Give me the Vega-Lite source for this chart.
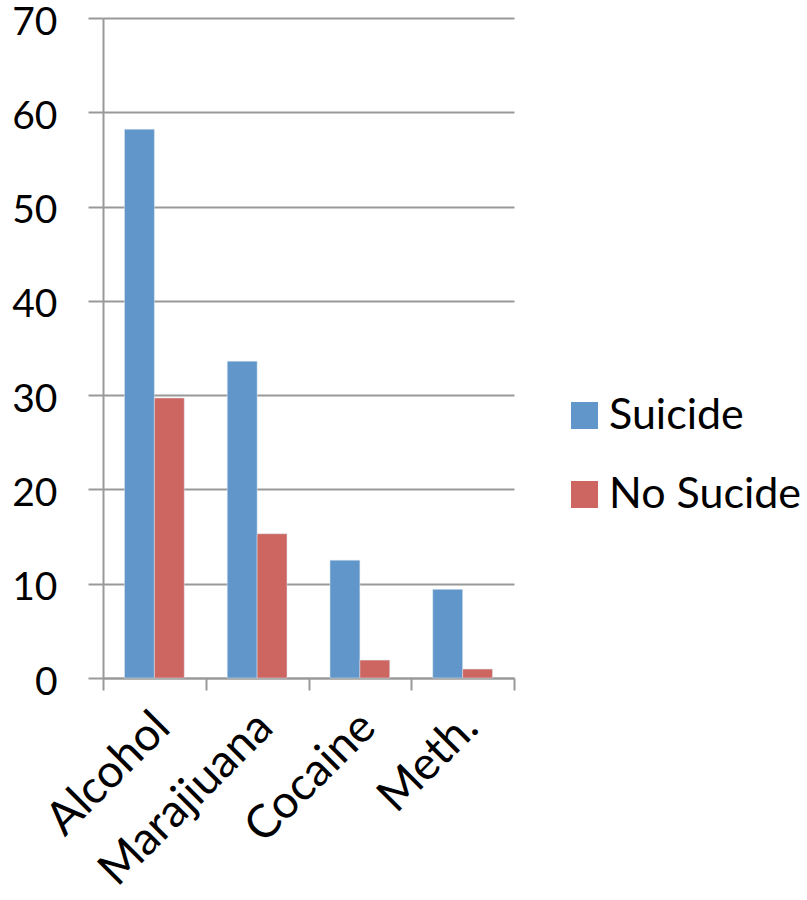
{
  "$schema": "https://vega.github.io/schema/vega-lite/v6.json",
  "autosize": "none",
  "width": 411,
  "height": 660,
  "padding": {"left": 103, "top": 18, "right": 293, "bottom": 222},
  "background": "white",
  "data": {
    "values": [
      {"drug": "Alcohol", "group": "Suicide", "value": 58.2},
      {"drug": "Alcohol", "group": "No Sucide", "value": 29.7},
      {"drug": "Marajiuana", "group": "Suicide", "value": 33.6},
      {"drug": "Marajiuana", "group": "No Sucide", "value": 15.3},
      {"drug": "Cocaine", "group": "Suicide", "value": 12.5},
      {"drug": "Cocaine", "group": "No Sucide", "value": 1.9},
      {"drug": "Meth.", "group": "Suicide", "value": 9.4},
      {"drug": "Meth.", "group": "No Sucide", "value": 0.95}
    ]
  },
  "config": {
    "font": "Lato",
    "view": {"stroke": null},
    "axis": {"domainColor": "#999999", "domainWidth": 2, "tickColor": "#999999", "tickWidth": 2, "gridColor": "#999999", "gridWidth": 2, "labelColor": "black", "labelFont": "Lato", "labelLimit": 0}
  },
  "mark": {"type": "bar", "stroke": "#dbe6f2", "strokeWidth": 0.5},
  "encoding": {
    "x": {
      "field": "drug", "type": "nominal", "sort": ["Alcohol", "Marajiuana", "Cocaine", "Meth."],
      "scale": {"paddingInner": 0, "paddingOuter": 0},
      "axis": {"title": null, "labelAngle": -45, "labelFontSize": 46, "tickBand": "extent", "tickSize": 12, "labelPadding": 14, "grid": false, "labelAlign": "right", "labelBaseline": "top", "labelOffset": -8}
    },
    "xOffset": {"field": "group", "type": "nominal", "sort": ["Suicide", "No Sucide"], "scale": {"paddingOuter": 0.72, "paddingInner": 0}},
    "y": {
      "field": "value", "type": "quantitative",
      "scale": {"domain": [0, 70], "nice": false},
      "axis": {"title": null, "values": [0, 10, 20, 30, 40, 50, 60, 70], "tickSize": 15, "labelFontSize": 39, "labelPadding": 31, "labelOffset": 4, "grid": true}
    },
    "color": {
      "field": "group", "type": "nominal", "sort": ["Suicide", "No Sucide"],
      "scale": {"domain": ["Suicide", "No Sucide"], "range": ["#6096C9", "#CD6660"]},
      "legend": {"title": null, "orient": "none", "legendX": 460, "legendY": 376, "symbolType": "square", "symbolSize": 729, "symbolStrokeWidth": 0, "labelFontSize": 43, "labelColor": "black", "rowPadding": 35, "labelOffset": 3, "labelLimit": 0}
    }
  }
}
